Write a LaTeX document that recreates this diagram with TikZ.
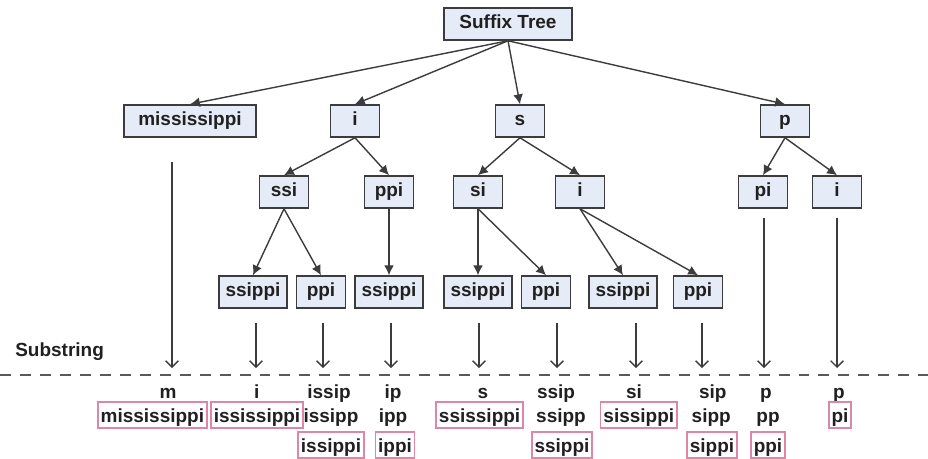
\documentclass[tikz,border=0pt]{standalone}
\usepackage{fontspec}
\setmainfont{Liberation Sans}
\usetikzlibrary{arrows.meta}

\definecolor{boxfill}{HTML}{E6ECF7}
\definecolor{boxline}{HTML}{3C3C3C}
\definecolor{hitpink}{HTML}{DE86A8}
\definecolor{ink}{HTML}{202020}

\tikzset{
  tbox/.style={draw=boxline, fill=boxfill, line width=1.1pt, minimum width=1.225cm,
    minimum height=0.8cm, inner xsep=0.16cm, text height=0.34cm, text depth=0.1cm},
  sub/.style={anchor=base, inner xsep=2pt, inner ysep=1pt, text height=0.46cm, text depth=0.12cm},
  hit/.style={sub, draw=hitpink, line width=1.1pt},
  edge/.style={-{Latex[length=7pt,width=7pt]}, line width=1pt, draw=boxline},
  down/.style={-{Straight Barb[length=4.5pt,width=9pt]}, line width=0.9pt, draw=boxline},
}

\begin{document}
\begin{tikzpicture}[font=\fontsize{13.5}{16}\selectfont\bfseries, text=ink]
\useasboundingbox (0,0) rectangle (23.2,-11.45);

% tree nodes
\node[tbox, minimum width=3.2cm] (root) at (12.7,-0.6) {Suffix Tree};
\node[tbox, minimum width=3.3cm] (mis) at (4.75,-3.025) {mississippi};
\node[tbox] (i) at (8.875,-3.025) {i};
\node[tbox] (s) at (13.0,-3.025) {s};
\node[tbox] (p) at (19.625,-3.025) {p};
\node[tbox] (issi) at (7.1,-4.8) {ssi};
\node[tbox] (ippi) at (9.725,-4.8) {ppi};
\node[tbox] (ssi) at (11.95,-4.8) {si};
\node[tbox] (si) at (14.5,-4.8) {i};
\node[tbox] (ppi) at (19.075,-4.8) {pi};
\node[tbox] (pi) at (20.925,-4.8) {i};
\node[tbox] (ississippi) at (6.325,-7.3) {ssippi};
\node[tbox] (issippi) at (8.025,-7.3) {ppi};
\node[tbox] (ippissippi) at (9.725,-7.3) {ssippi};
\node[tbox] (ssissippi) at (11.95,-7.3) {ssippi};
\node[tbox] (ssippi) at (13.65,-7.3) {ppi};
\node[tbox] (sissippi) at (15.575,-7.3) {ssippi};
\node[tbox] (sippi) at (17.45,-7.3) {ppi};

% tree edges
\foreach \a/\b in {root/mis, root/i, root/s, root/p, i/issi, i/ippi, s/ssi, s/si, p/ppi, p/pi,
    issi/ississippi, issi/issippi, ippi/ippissippi, ssi/ssissippi, ssi/ssippi, si/sissippi, si/sippi}
  \draw[edge] (\a.south) -- (\b.north);

% substring line
\node[anchor=west, inner sep=0pt] (lbl) at (0.375,-8.8) {Substring};
\coordinate (dl) at (0,-9.375);
\coordinate (dr) at (23.2,-9.375);
\draw[boxline!85, line width=1.4pt, dash pattern=on 7.8pt off 6.4pt] (dl) -- (dr);

% arrows down to the line
\foreach \n/\x/\y in {1/4.3/-4.05, 2/6.4/-8.075, 3/8.075/-8.075, 4/9.775/-8.075, 5/11.975/-8.075,
    6/13.925/-8.075, 7/15.9/-8.075, 8/17.55/-8.075, 9/19.1/-5.45, 10/20.925/-5.45} {
  \coordinate (top\n) at (\x,\y);
  \coordinate (end\n) at (\x,-9.2);
  \draw[down] (top\n) -- (end\n);
}

% substrings under the line
\node[sub] (c1a) at (4.2,-9.95) {m};
\node[hit] (c1b) at (3.81,-10.55) {mississippi};
\node[sub] (c2a) at (6.42,-9.95) {i};
\node[hit] (c2b) at (6.425,-10.55) {ississippi};
\node[sub] (c3a) at (8.225,-9.95) {issip};
\node[sub] (c3b) at (8.275,-10.55) {issipp};
\node[hit] (c3c) at (8.275,-11.3) {issippi};
\node[sub] (c4a) at (9.825,-9.95) {ip};
\node[sub] (c4b) at (9.825,-10.55) {ipp};
\node[hit] (c4c) at (9.875,-11.3) {ippi};
\node[sub] (c5a) at (12.075,-9.95) {s};
\node[hit] (c5b) at (11.99,-10.55) {ssissippi};
\node[sub] (c6a) at (13.9,-9.95) {ssip};
\node[sub] (c6b) at (14.025,-10.55) {ssipp};
\node[hit] (c6c) at (14.05,-11.3) {ssippi};
\node[sub] (c7a) at (15.85,-9.95) {si};
\node[hit] (c7b) at (15.97,-10.55) {sissippi};
\node[sub] (c8a) at (17.82,-9.95) {sip};
\node[sub] (c8b) at (17.78,-10.55) {sipp};
\node[hit] (c8c) at (17.8,-11.3) {sippi};
\node[sub] (c9a) at (19.15,-9.95) {p};
\node[sub] (c9b) at (19.2,-10.55) {pp};
\node[hit] (c9c) at (19.2,-11.3) {ppi};
\node[sub] (c10a) at (20.975,-9.95) {p};
\node[hit] (c10b) at (21.0,-10.55) {pi};
\end{tikzpicture}
\end{document}
